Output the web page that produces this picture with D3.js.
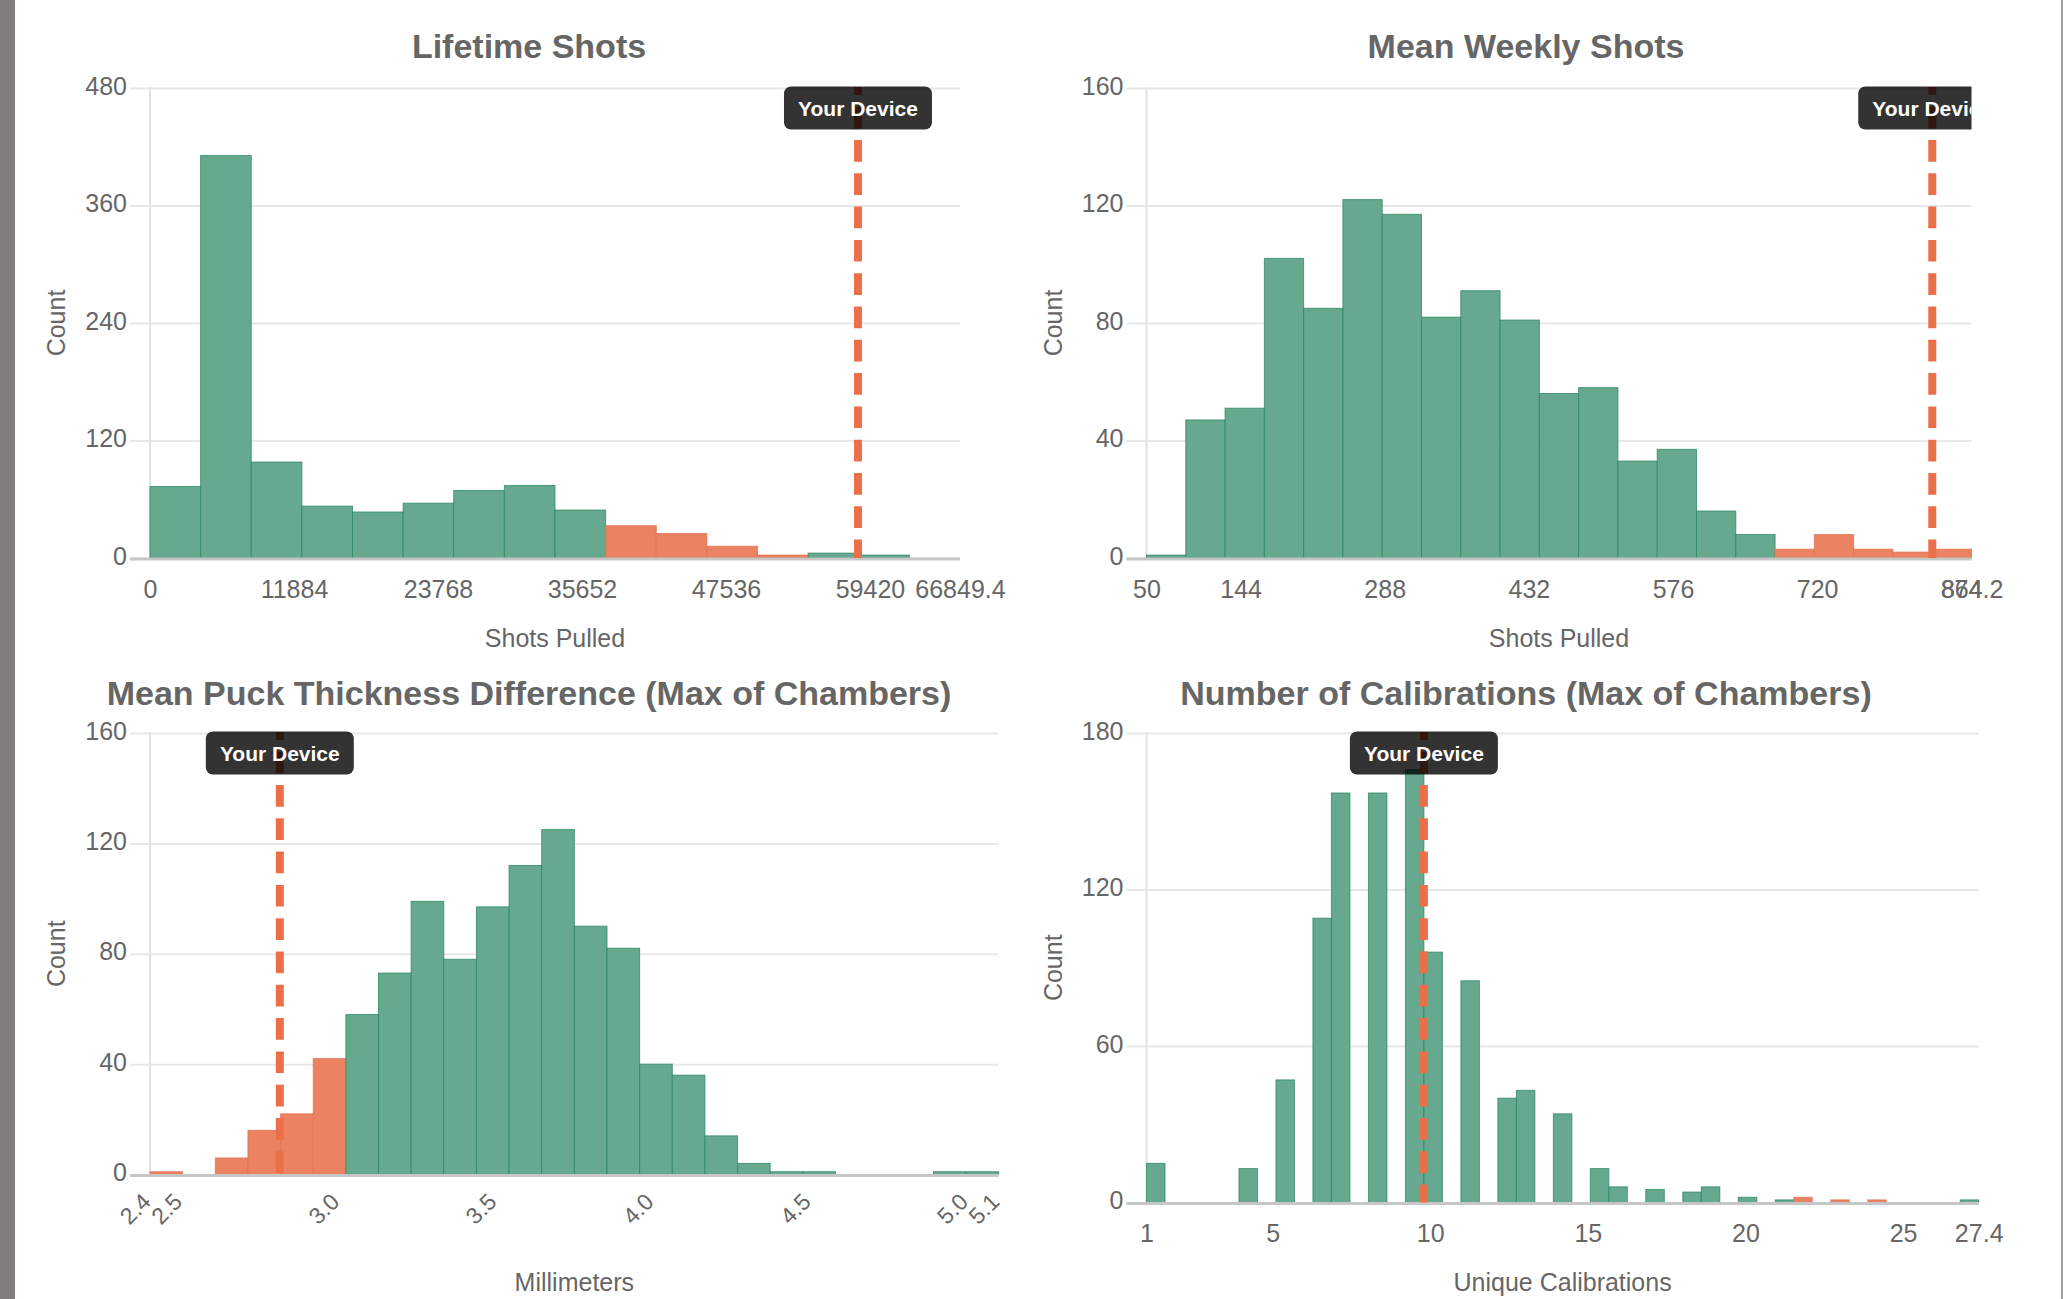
<!DOCTYPE html>
<html><head><meta charset="utf-8">
<script src="https://cdn.jsdelivr.net/npm/d3@7"></script>
<style>
html,body{margin:0;padding:0;background:#fff;overflow:hidden;}
svg{display:block;font-family:"Liberation Sans",Arial,Helvetica,sans-serif;}
</style></head><body>
<svg id="c" width="2064" height="1299"></svg>
<script>
// ---------- DATA ----------
const titles = ["Lifetime Shots", "Mean Weekly Shots",
  "Mean Puck Thickness Difference (Max of Chambers)", "Number of Calibrations (Max of Chambers)"];
const xTitles = ["Shots Pulled", "Shots Pulled", "Millimeters", "Unique Calibrations"];
const yTitle = "Count";
const deviceLabel = "Your Device";

// Lifetime Shots histogram
const lifetimeDomain = [0, 66849.4];
const lifetimeCounts = [73, 411, 98, 53, 47, 56, 69, 74, 49, 33, 25, 12, 3, 5, 3, 0];
const lifetimeOrangeBins = [9, 10, 11, 12];
const lifetimeXTicks = [0, 11884, 23768, 35652, 47536, 59420, 66849.4];
const lifetimeYTicks = [0, 120, 240, 360, 480];
const lifetimeDevice = 58430;

// Mean Weekly Shots histogram
const weeklyDomain = [50, 874.2];
const weeklyCounts = [1, 47, 51, 102, 85, 122, 117, 82, 91, 81, 56, 58, 33, 37, 16, 8, 3, 8, 3, 2, 3];
const weeklyOrangeBins = [16, 17, 18, 19, 20];
const weeklyXTicks = [50, 144, 288, 432, 576, 720, 864, 874.2];
const weeklyYTicks = [0, 40, 80, 120, 160];
const weeklyDevice = 835;

// Mean Puck Thickness Difference histogram
const puckDomain = [2.4, 5.1];
const puckCounts = [1, 0, 6, 16, 22, 42, 58, 73, 99, 78, 97, 112, 125, 90, 82, 40, 36, 14, 4, 1, 1, 0, 0, 0, 1, 1];
const puckOrangeBins = [0, 1, 2, 3, 4, 5];
const puckXTicks = [2.4, 2.5, 3.0, 3.5, 4.0, 4.5, 5.0, 5.1];
const puckYTicks = [0, 40, 80, 120, 160];
const puckDevice = 2.813;

// Number of Calibrations histogram
const calibDomain = [1, 27.4];
const calibCounts = [15, 0, 0, 0, 0, 13, 0, 47, 0, 109, 157, 0, 157, 0, 166, 96, 0, 85, 0, 40, 43, 0, 34, 0, 13,
  6, 0, 5, 0, 4, 6, 0, 2, 0, 1, 2, 0, 1, 0, 1, 0, 0, 0, 0, 1];
const calibOrangeBins = [35, 37, 39];
const calibXTicks = [1, 5, 10, 15, 20, 25, 27.4];
const calibYTicks = [0, 60, 120, 180];
const calibDevice = 9.8;

// ---------- LAYOUT / STYLE ----------
const GREEN = "#66a98f", GREEN_EDGE = "#2a8660";
const ORANGE = "#eb8262", ORANGE_EDGE = "#e2714f";
const LINE = "#eb7049";
const TEXT = "#666";

const panels = [
  {title: titles[0], xTitle: xTitles[0], domain: lifetimeDomain, counts: lifetimeCounts, orange: lifetimeOrangeBins,
   xTicks: lifetimeXTicks, yTicks: lifetimeYTicks, device: lifetimeDevice, fmt: d => String(d),
   box: {l: 150, r: 960, t: 88, b: 558}, titleX: 529, titleY: 58, xTitleY: 647, countX: 65, rotate: false},
  {title: titles[1], xTitle: xTitles[1], domain: weeklyDomain, counts: weeklyCounts, orange: weeklyOrangeBins,
   xTicks: weeklyXTicks, yTicks: weeklyYTicks, device: weeklyDevice, fmt: d => String(d),
   box: {l: 1146.5, r: 1971.5, t: 88, b: 558}, titleX: 1526, titleY: 58, xTitleY: 647, countX: 1062, rotate: false},
  {title: titles[2], xTitle: xTitles[2], domain: puckDomain, counts: puckCounts, orange: puckOrangeBins,
   xTicks: puckXTicks, yTicks: puckYTicks, device: puckDevice, fmt: d3.format(".1f"),
   box: {l: 150, r: 998.7, t: 733, b: 1174.5}, titleX: 529, titleY: 705, xTitleY: 1291, countX: 65, rotate: true},
  {title: titles[3], xTitle: xTitles[3], domain: calibDomain, counts: calibCounts, orange: calibOrangeBins,
   xTicks: calibXTicks, yTicks: calibYTicks, device: calibDevice, fmt: d => String(d),
   box: {l: 1146.5, r: 1978.7, t: 733, b: 1202.5}, titleX: 1526, titleY: 705, xTitleY: 1291, countX: 1062, rotate: false}
];

const svg = d3.select("#c");
svg.append("rect").attr("width", 2064).attr("height", 1299).attr("fill", "#fff");
// window frame edges
svg.append("rect").attr("x", 0).attr("y", 0).attr("width", 15).attr("height", 1299).attr("fill", "#837e7b");
svg.append("line").attr("x1", 2062).attr("x2", 2062).attr("y1", 0).attr("y2", 1299)
  .attr("stroke", "#a3a3a3").attr("stroke-width", 2);

const defs = svg.append("defs");

panels.forEach((p, pi) => {
  const {l, r, t, b} = p.box;
  const g = svg.append("g");
  const x = d3.scaleLinear().domain(p.domain).range([l, r]);
  const yMax = p.yTicks[p.yTicks.length - 1];
  const y = d3.scaleLinear().domain([0, yMax]).range([b, t]);

  // title
  g.append("text").attr("x", p.titleX).attr("y", p.titleY).attr("text-anchor", "middle")
    .attr("fill", TEXT).style("font-size", "34px").style("font-weight", "bold").text(p.title);

  // y axis with gridlines
  const yAxis = d3.axisLeft(y).tickValues(p.yTicks).tickSize(r - l + 20).tickPadding(3).tickFormat(d3.format("d"));
  const gy = g.append("g").attr("transform", `translate(${r},0)`).call(yAxis);
  gy.select(".domain").remove();
  gy.selectAll(".tick line").attr("stroke", "#e8e8e8").attr("stroke-width", 2);
  gy.selectAll(".tick text").attr("fill", TEXT).attr("dy", "0.24em")
    .style("font-size", "25px").style("font-family", "inherit");

  // vertical axis border
  g.append("line").attr("x1", l).attr("x2", l).attr("y1", t - 1).attr("y2", b)
    .attr("stroke", "#e3e3e3").attr("stroke-width", 2);

  // bars
  const n = p.counts.length;
  const bw = (p.domain[1] - p.domain[0]) / n;
  const bins = p.counts.map((c, i) => ({i, c, x0: p.domain[0] + i * bw, x1: p.domain[0] + (i + 1) * bw,
    hot: p.orange.includes(i)})).filter(d => d.c > 0);
  g.append("g").selectAll("rect").data(bins).join("rect")
    .attr("x", d => x(d.x0)).attr("width", d => x(d.x1) - x(d.x0))
    .attr("y", d => y(d.c)).attr("height", d => y(0) - y(d.c))
    .attr("fill", d => d.hot ? ORANGE : GREEN)
    .attr("stroke", d => d.hot ? ORANGE_EDGE : GREEN_EDGE).attr("stroke-width", 1).attr("stroke-opacity", 0.75);

  // zero line
  g.append("line").attr("x1", l - 20).attr("x2", r).attr("y1", y(0) + 1).attr("y2", y(0) + 1)
    .attr("stroke", "#c6c6c6").attr("stroke-width", 3);

  // x axis ticks
  const xAxis = d3.axisBottom(x).tickValues(p.xTicks).tickSize(0).tickFormat(p.fmt);
  const gx = g.append("g").attr("transform", `translate(0,${b})`).call(xAxis);
  gx.select(".domain").remove();
  gx.selectAll(".tick text").attr("fill", TEXT).style("font-size", "25px").style("font-family", "inherit");
  if (p.rotate) {
    gx.selectAll(".tick text").attr("x", 0).attr("y", 0).attr("dy", "0.35em")
      .attr("text-anchor", "end").attr("transform", "translate(-4,23) rotate(-45)").style("font-size", "23px");
  } else {
    gx.selectAll(".tick text").attr("y", 22);
  }

  // axis titles
  g.append("text").attr("x", (l + r) / 2).attr("y", p.xTitleY).attr("text-anchor", "middle")
    .attr("fill", TEXT).style("font-size", "25px").text(p.xTitle);
  g.append("text").attr("transform", `translate(${p.countX},${(t + b) / 2}) rotate(-90)`)
    .attr("text-anchor", "middle").attr("fill", TEXT).style("font-size", "25px").text(yTitle);

  // annotation (clipped to chart area)
  const cid = "clip" + pi;
  defs.append("clipPath").attr("id", cid).append("rect")
    .attr("x", l).attr("y", t - 12).attr("width", r - l).attr("height", b - t + 14);
  const ga = g.append("g").attr("clip-path", `url(#${cid})`);
  const dx = x(p.device);
  ga.append("line").attr("x1", dx).attr("x2", dx).attr("y1", t - 1).attr("y2", y(0))
    .attr("stroke", LINE).attr("stroke-width", 8)
    .attr("stroke-dasharray", "21.7 11.6").attr("stroke-dashoffset", 13.6);
  const lw = 148, lh = 43;
  ga.append("rect").attr("x", dx - lw / 2).attr("y", t - 1.5).attr("width", lw).attr("height", lh)
    .attr("rx", 7).attr("fill", "rgba(0,0,0,0.8)");
  ga.append("text").attr("x", dx).attr("y", t - 1.5 + lh / 2).attr("dy", "0.36em").attr("text-anchor", "middle")
    .attr("fill", "#fff").style("font-size", "21px").style("font-weight", "bold").text(deviceLabel);
});
</script>
</body></html>
